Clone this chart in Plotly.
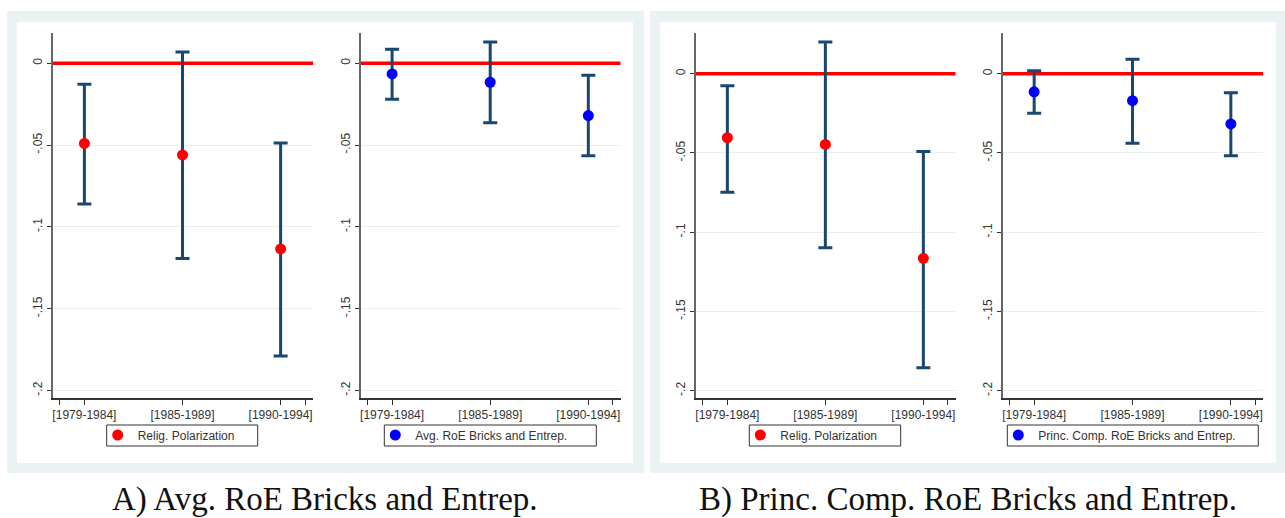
import plotly.graph_objects as go

W, H = 1285, 518

periods = ['[1979-1984]', '[1985-1989]', '[1990-1994]']
xpos = [1, 2, 3]
XRANGE = [0.68, 3.33]

# Panel A, left: Relig. Polarization
a_rel_coef = [-0.049, -0.056, -0.1135]
a_rel_lo = [-0.086, -0.1194, -0.179]
a_rel_hi = [-0.0128, 0.0069, -0.0487]
# Panel A, right: Avg. RoE Bricks and Entrep.
a_roe_coef = [-0.0065, -0.0116, -0.032]
a_roe_lo = [-0.022, -0.0363, -0.0565]
a_roe_hi = [0.0086, 0.013, -0.0073]
# Panel B, left: Relig. Polarization
b_rel_coef = [-0.0404, -0.0446, -0.1165]
b_rel_lo = [-0.0748, -0.1098, -0.1855]
b_rel_hi = [-0.0076, 0.020, -0.049]
# Panel B, right: Princ. Comp. RoE Bricks and Entrep.
b_roe_coef = [-0.0114, -0.017, -0.0317]
b_roe_lo = [-0.025, -0.0439, -0.0517]
b_roe_hi = [0.0019, 0.0091, -0.012]

ytick_vals = [0, -0.05, -0.1, -0.15, -0.2]
ytick_text = ['0', '-.05', '-.1', '-.15', '-.2']
ref_line = 0

captions = ['A) Avg. RoE Bricks and Entrep.', 'B) Princ. Comp. RoE Bricks and Entrep.']

panels = [
    dict(name='Relig. Polarization', coef=a_rel_coef, lo=a_rel_lo, hi=a_rel_hi, color='#ff0000',
         px=(53, 313), py=(33, 398), yr=(-0.2046, 0.0185), leg=(106.7, 257.7)),
    dict(name='Avg. RoE Bricks and Entrep.', coef=a_roe_coef, lo=a_roe_lo, hi=a_roe_hi, color='#0000ff',
         px=(360.7, 620.7), py=(33, 398), yr=(-0.2046, 0.0185), leg=(384.3, 596.3)),
    dict(name='Relig. Polarization', coef=b_rel_coef, lo=b_rel_lo, hi=b_rel_hi, color='#ff0000',
         px=(696, 955.7), py=(33, 398), yr=(-0.2046, 0.0257), leg=(749.3, 900.7)),
    dict(name='Princ. Comp. RoE Bricks and Entrep.', coef=b_roe_coef, lo=b_roe_lo, hi=b_roe_hi, color='#0000ff',
         px=(1002.7, 1263.3), py=(33, 398), yr=(-0.2046, 0.0257), leg=(1007.3, 1258.3)),
]
LEG_Y = (425, 446)

FONT = 'Liberation Sans, Arial, sans-serif'
NAVY = '#1a476f'

fig = go.Figure()
layout = dict(
    width=W, height=H, margin=dict(l=0, r=0, t=0, b=0),
    paper_bgcolor='white', plot_bgcolor='rgba(0,0,0,0)',
    font=dict(family=FONT, size=12, color='#333333'),
    showlegend=True,
)

shapes = []
# panel backgrounds (outer light frame + inner white)
for (ox0, oy0, ox1, oy1), (ix0, iy0, ix1, iy1) in [((7, 11, 644, 473), (17, 22, 633, 463)),
                                                    ((650, 11, 1285, 473), (660, 22, 1276, 463))]:
    shapes.append(dict(type='rect', xref='paper', yref='paper', layer='below',
                       x0=ox0 / W, x1=ox1 / W, y0=1 - oy1 / H, y1=1 - oy0 / H,
                       fillcolor='#eaf2f3', line=dict(width=0)))
    shapes.append(dict(type='rect', xref='paper', yref='paper', layer='below',
                       x0=ix0 / W, x1=ix1 / W, y0=1 - iy1 / H, y1=1 - iy0 / H,
                       fillcolor='white', line=dict(width=0)))

for i, p in enumerate(panels):
    n = '' if i == 0 else str(i + 1)
    xa, ya = 'x' + n, 'y' + n
    lg = 'legend' + n
    # red reference line at zero (drawn under the error bars, over the grid)
    fig.add_trace(go.Scatter(
        x=XRANGE, y=[ref_line, ref_line], mode='lines',
        line=dict(color='#ff0000', width=3.5), hoverinfo='skip',
        xaxis=xa, yaxis=ya, showlegend=False, legend=lg,
    ))
    err_plus = [h - c for h, c in zip(p['hi'], p['coef'])]
    err_minus = [c - l for c, l in zip(p['coef'], p['lo'])]
    fig.add_trace(go.Scatter(
        x=xpos, y=p['coef'], mode='markers', name=p['name'],
        marker=dict(color=p['color'], size=11),
        error_y=dict(type='data', symmetric=False, array=err_plus, arrayminus=err_minus,
                     color=NAVY, thickness=3, width=7),
        xaxis=xa, yaxis=ya, legend=lg, showlegend=True,
    ))
    layout['xaxis' + n] = dict(
        domain=[p['px'][0] / W, p['px'][1] / W], anchor=ya, range=XRANGE,
        tickvals=[0.75] + xpos + [3.25], ticktext=[''] + periods + [''],
        ticks='outside', ticklen=5, tickcolor='#333333', tickwidth=1,
        showline=True, linecolor='#333333', linewidth=2, showgrid=False, zeroline=False,
        tickfont=dict(size=12, color='#333333'), fixedrange=True,
    )
    layout['yaxis' + n] = dict(
        domain=[1 - p['py'][1] / H, 1 - p['py'][0] / H], anchor=xa, range=list(p['yr']),
        tickvals=ytick_vals, ticktext=ytick_text, tickangle=-90,
        ticks='outside', ticklen=4, tickcolor='#333333', tickwidth=1,
        showline=True, linecolor='#666666', linewidth=2,
        showgrid=True, gridcolor='#e9f0f1', gridwidth=1, zeroline=False,
        tickfont=dict(size=12, color='#333333'), fixedrange=True,
    )
    lx0, lx1 = p['leg']
    # legend frame
    shapes.append(dict(type='rect', xref='paper', yref='paper', layer='above',
                       x0=lx0 / W, x1=lx1 / W, y0=1 - LEG_Y[1] / H, y1=1 - LEG_Y[0] / H,
                       fillcolor='rgba(0,0,0,0)', line=dict(color='#333333', width=1)))
    layout[lg] = dict(
        x=(lx0 - 9) / W, y=1 - (LEG_Y[0] - 4.5) / H, xanchor='left', yanchor='top',
        orientation='h', borderwidth=0, bgcolor='rgba(0,0,0,0)',
        font=dict(size=12, color='#333333'), itemwidth=30,
    )

annotations = []
for cap, cx in zip(captions, [325, 968]):
    annotations.append(dict(text=cap, xref='paper', yref='paper', x=cx / W, y=1 - 499 / H,
                            xanchor='center', yanchor='middle', showarrow=False,
                            font=dict(family='Liberation Serif, Times New Roman, serif', size=33,
                                      color='#111111')))

layout['shapes'] = shapes
layout['annotations'] = annotations
fig.update_layout(**layout)

fig.write_html('out.html', config={'displayModeBar': False, 'staticPlot': False},
               post_script="document.body.style.margin='0';document.body.style.overflow='hidden';")
